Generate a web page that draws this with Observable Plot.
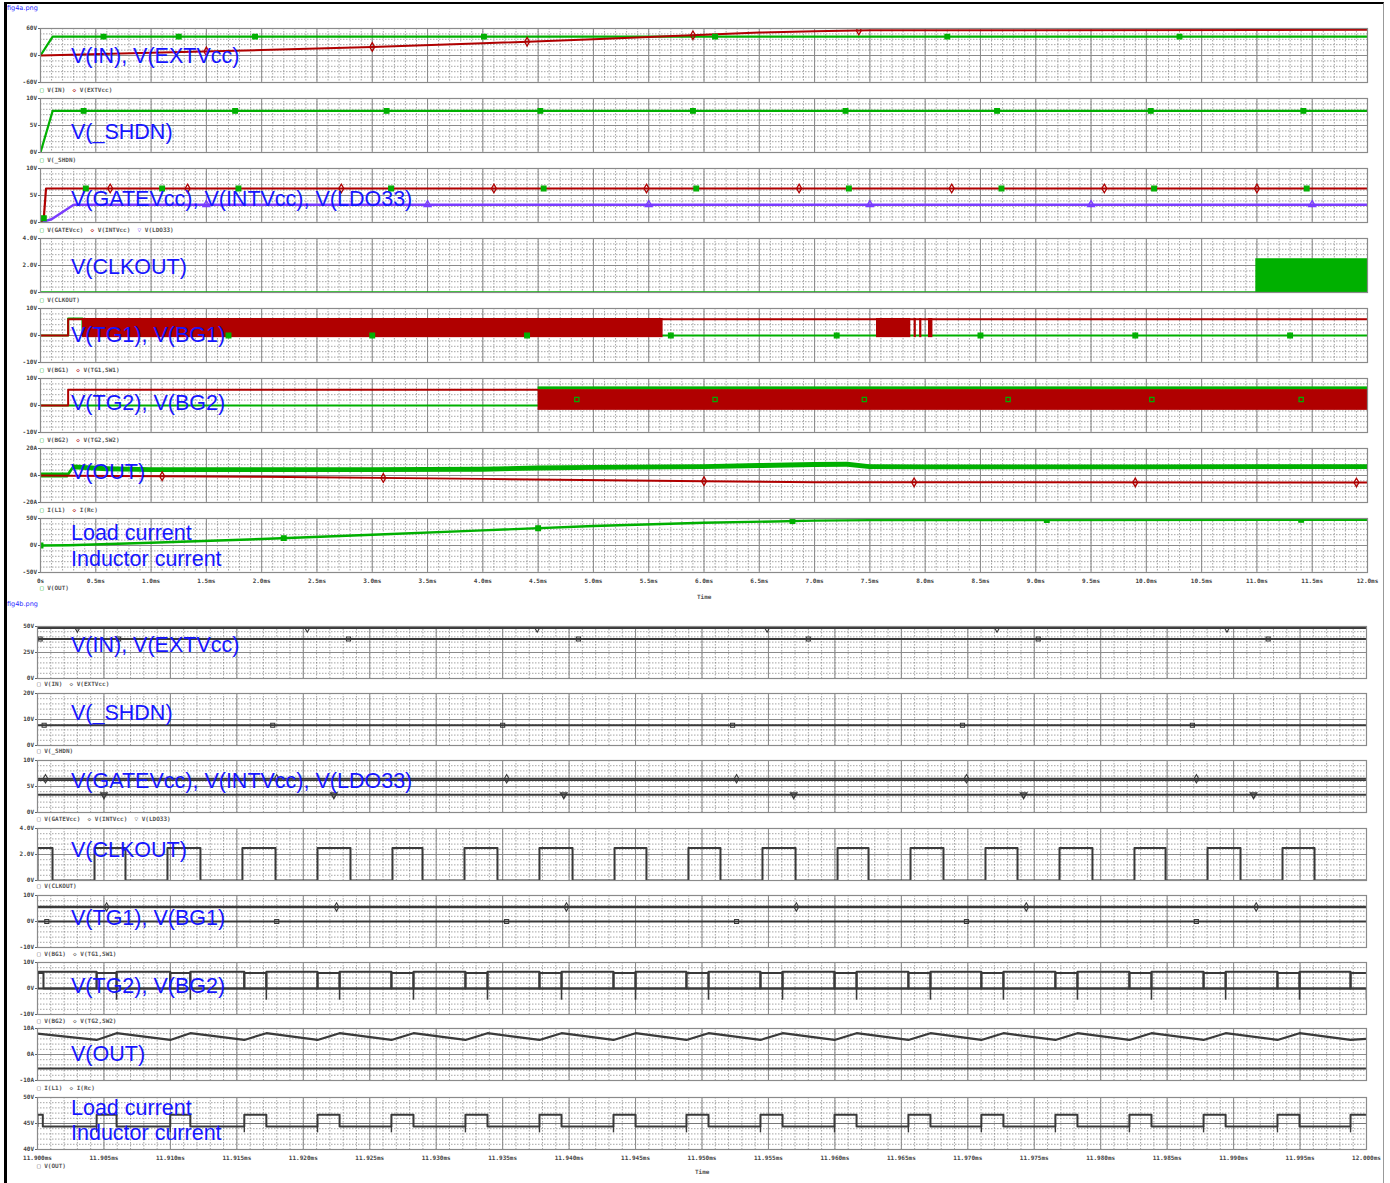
<!DOCTYPE html>
<html><head><meta charset="utf-8">
<script src="https://cdn.jsdelivr.net/npm/d3@7"></script>
<script src="https://cdn.jsdelivr.net/npm/@observablehq/plot@0.6"></script>
<style>
body{margin:0;background:#fff;}
#page{position:relative;width:1390px;height:1183px;overflow:hidden;background:#fff;}
#page svg{position:absolute;left:0;overflow:visible;}
.big{position:absolute;left:71px;color:#1616ff;font:21.5px "Liberation Sans",Arial,sans-serif;white-space:nowrap;line-height:1;transform:translateY(-50%);}
.leg{position:absolute;font:bold 6px "DejaVu Sans Mono",monospace;color:#555;white-space:nowrap;}
.fn{position:absolute;left:7px;font:6.5px "DejaVu Sans",sans-serif;color:#2a2aff;}
.ttl{position:absolute;font:bold 6px "DejaVu Sans Mono",monospace;color:#555;}
</style></head>
<body><div id="page"></div>
<script>
// ---------- colours ----------
const GREEN = "#00b000", RED = "#b00000", PURPLE = "#7a3cff", GREY = "#3a3a3a";

// ---------- axis ticks ----------
const topTickVals = [0,0.5,1,1.5,2,2.5,3,3.5,4,4.5,5,5.5,6,6.5,7,7.5,8,8.5,9,9.5,10,10.5,11,11.5,12];
const topTickLabels = ["0s","0.5ms","1.0ms","1.5ms","2.0ms","2.5ms","3.0ms","3.5ms","4.0ms","4.5ms","5.0ms","5.5ms","6.0ms","6.5ms","7.0ms","7.5ms","8.0ms","8.5ms","9.0ms","9.5ms","10.0ms","10.5ms","11.0ms","11.5ms","12.0ms"];
const botTickVals = [11.900,11.905,11.910,11.915,11.920,11.925,11.930,11.935,11.940,11.945,11.950,11.955,11.960,11.965,11.970,11.975,11.980,11.985,11.990,11.995,12.000];
const botTickLabels = ["11.900ms","11.905ms","11.910ms","11.915ms","11.920ms","11.925ms","11.930ms","11.935ms","11.940ms","11.945ms","11.950ms","11.955ms","11.960ms","11.965ms","11.970ms","11.975ms","11.980ms","11.985ms","11.990ms","11.995ms","12.000ms"];

// ---------- fig4a (0 - 12 ms) ----------
const vinT = [0, 0.11, 12];
const vinV = [0, 42, 42];
const vinMarks = [0.57, 1.25, 1.94, 4.01, 6.1, 8.2, 10.3];
const extT = [0, 1, 2, 3, 4, 5, 5.5, 6, 6.5, 7, 7.5, 12];
const extV = [0, 6, 12, 19, 27, 36, 41, 46, 51, 54, 56, 57];
const extMarks = [1.5, 3.0, 4.4, 5.9, 7.4];

const shdnT = [0, 0.11, 12];
const shdnV = [0, 7.7, 7.7];
const shdnMarks = [0.39, 1.76, 3.13, 4.52, 5.90, 7.28, 8.65, 10.04, 11.42];

const gateT = [0, 0.03, 0.05, 12];
const gateV = [0, 0.8, 6.3, 6.3];
const gateMarks = [0.03, 0.41, 1.1, 1.79, 3.17, 4.55, 5.93, 7.31, 8.69, 10.07, 11.45];
const intMarks = [0.63, 1.33, 2.72, 4.1, 5.48, 6.86, 8.24, 9.62, 11.0];
const ldoT = [0, 0.1, 0.3, 12];
const ldoV = [0, 0.6, 3.3, 3.3];
const ldoMarks = [1.5, 3.5, 5.5, 7.5, 9.5, 11.5];

const clkT = [0, 12];
const clkV = [0, 0];
const clkBandT1 = [10.99];
const clkBandT2 = [12.0];
const clkHi = 2.5;

const bg1T = [0, 0.25, 0.25, 0.38, 0.38, 12];
const bg1V = [0, 0, 6.3, 6.3, 0, 0];
const tg1T = [0, 0.25, 0.25, 12];
const tg1V = [0, 0, 6.0, 6.0];
const tg1BandT1 = [0.38, 7.56, 7.90, 7.95, 8.03];
const tg1BandT2 = [5.63, 7.87, 7.92, 7.97, 8.07];
const tg1BandLo = -0.8, tg1BandHi = 6.3;
const bg1Marks = [1.7, 3.0, 4.4, 5.7, 7.2, 8.5, 9.9, 11.3];

const bg2T = [0, 4.5, 12];
const bg2V = [0, 0, 0];
const tg2T = [0, 0.25, 0.25, 4.5];
const tg2V = [0, 0, 5.8, 5.8];
const tg2BandT1 = [4.5];
const tg2BandT2 = [12.0];
const tg2BandLo = -1.8, tg2BandHi = 5.9;
const bg2TopLo = 5.9, bg2TopHi = 6.9;
const bg2Marks = [4.85, 6.1, 7.45, 8.75, 10.05, 11.4];

const il1T = [0, 0.25, 0.3, 0.6, 1, 2, 3, 4, 4.5, 5, 6, 6.5, 7, 7.3, 7.5, 8, 9, 10, 11, 12];
const il1V = [0, 0, 6.0, 4.6, 4.0, 4.0, 4.0, 4.3, 5.2, 5.6, 6.2, 7.0, 7.8, 8.0, 6.2, 6.0, 6.0, 6.0, 6.2, 6.2];
const il1Half = 1.8;
const ircT = [0, 0.25, 2, 4, 6, 7, 12];
const ircV = [0, -0.1, -1.0, -2.5, -4.2, -5.0, -5.2];
const ircMarks = [1.1, 3.1, 6.0, 7.9, 9.9, 11.9];

const voutT = [0, 0.25, 1, 2, 3, 4, 5, 6, 7, 7.5, 12];
const voutV = [0, 0.5, 5, 12, 20, 28, 36, 42, 46, 47, 47.5];
const voutMarks = [0, 2.2, 4.5, 6.8, 9.1, 11.4];

// ---------- fig4b (11.900 - 12.000 ms) ----------
const b_vinV = 48.5, b_extV = 38;
const b_vinMarks = [11.90300, 11.92030, 11.93760, 11.95490, 11.97220, 11.98950];
const b_extMarks = [11.90020, 11.90610, 11.92340, 11.94070, 11.95800, 11.97530, 11.99260];
const b_shdnV = 7.8;
const b_shdnMarks = [11.90050, 11.91770, 11.93500, 11.95230, 11.96960, 11.98690];
const b_gateV = 6.5, b_intV = 6.2, b_ldoV = 3.4;
const b_gateMarks = [11.90060, 11.91800, 11.93530, 11.95260, 11.96990, 11.98720];
const b_ldoMarks = [11.90500, 11.92230, 11.93960, 11.95690, 11.97420, 11.99150];
const b_clkRise = [11.90113,11.90662,11.91226,11.91791,11.92355,11.92897,11.93461,11.94026,11.94582,11.95139,11.95704,11.96253,11.96817,11.97374,11.97938,11.98488,11.99052,11.99609];
const b_clkFall = [11.90429,11.90978,11.91542,11.92107,11.92671,11.93213,11.93777,11.94342,11.94898,11.95455,11.96020,11.96569,11.97133,11.97690,11.98254,11.98804,11.99368,11.99925];
const b_clkHi = 2.5;
const b_tg1V = 5.6, b_bg1V = 0;
const b_tg1Marks = [11.90520, 11.92250, 11.93980, 11.95710, 11.97440, 11.99170];
const b_bg1Marks = [11.90070, 11.91800, 11.93530, 11.95260, 11.96990, 11.98720];
const b_bg2Hi = 6.0, b_tg2Hi = 6.4, b_spikeLo = -4.5;
const b_voutLoStart = [11.90445,11.90999,11.91556,11.92107,11.92663,11.93220,11.93777,11.94334,11.94883,11.95440,11.95997,11.96553,11.97102,11.97659,11.98216,11.98774,11.99330,11.99880];
const b_voutLoEnd   = [11.90595,11.91150,11.91722,11.92273,11.92829,11.93386,11.93943,11.94500,11.95049,11.95606,11.96163,11.96719,11.97268,11.97825,11.98382,11.98940,11.99496,12.00000];
const b_voutHi = 46.7, b_voutLo = 44.4;
const b_ilPeakT = [11.90595,11.91150,11.91722,11.92273,11.92829,11.93386,11.93943,11.94500,11.95049,11.95606,11.96163,11.96719,11.97268,11.97825,11.98382,11.98940,11.99496];
const b_ilValleyT = [11.90445,11.90999,11.91556,11.92107,11.92663,11.93220,11.93777,11.94334,11.94883,11.95440,11.95997,11.96553,11.97102,11.97659,11.98216,11.98774,11.99330,11.99880];
const b_ilPeak = 8.2, b_ilValley = 5.6;
const b_ircV = -5.4;

// ---------- drawing ----------
const page = document.getElementById("page");
const W = 1390;

function pts(ts, vs) { return ts.map((t, i) => ({t, v: vs[i]})); }

function panel(o) {
  const mt = 4, mb = o.xTicks ? 24 : 4;
  const h = o.bottom - o.top;
  const [x0, x1] = o.xDomain, [y0, y1] = o.yDomain;
  const xMinor = d3.range(0, 1 + 1e-9, 1 / o.xMinorN).map(f => x0 + (x1 - x0) * f);
  const yMinor = d3.range(0, 10.001).map(k => y0 + (y1 - y0) * k / 10);
  const marks = [
    Plot.ruleX(xMinor, {stroke: "#555", strokeWidth: 0.7, strokeDasharray: "1.5,1.5", strokeOpacity: 0.75}),
    Plot.ruleY(yMinor, {stroke: "#555", strokeWidth: 0.7, strokeDasharray: "1.5,1.5", strokeOpacity: 0.75}),
    Plot.ruleX(o.xMajor, {stroke: "#8a8a8a", strokeWidth: 1}),
    Plot.ruleY([y0, (y0 + y1) / 2, y1], {stroke: "#8a8a8a", strokeWidth: 1}),
    ...o.marks,
    Plot.frame({stroke: "#8a8a8a", strokeWidth: 1.2}),
    Plot.axisY({ticks: o.yTicks, tickFormat: d => o.yLabels[o.yTicks.indexOf(d)], tickSize: 2, tickPadding: 1.5, stroke: "#666", label: null})
  ];
  if (o.xTicks) marks.push(Plot.axisX({ticks: o.xTicks, tickFormat: d => o.xLabels[o.xTicks.indexOf(d)], tickSize: 0, tickPadding: 6, label: null}));
  const svg = Plot.plot({
    width: W, height: h + mt + mb,
    marginLeft: o.left, marginRight: W - o.right, marginTop: mt, marginBottom: mb,
    x: {domain: o.xDomain, axis: null, label: null}, y: {domain: o.yDomain, axis: null, label: null},
    style: {fontFamily: "DejaVu Sans Mono, monospace", fontSize: "6px", fontWeight: "bold", color: "#444", background: "transparent"},
    marks
  });
  svg.style.top = (o.top - mt) + "px";
  page.appendChild(svg);
}

function label(text, y) {
  const d = document.createElement("div"); d.className = "big"; d.textContent = text; d.style.top = y + "px"; page.appendChild(d);
}
function legend(html, x, y) {
  const d = document.createElement("div"); d.className = "leg"; d.innerHTML = html; d.style.left = x + "px"; d.style.top = y + "px"; page.appendChild(d);
}
const sq = c => `<span style="color:${c}">&#9633;</span>`;
const di = c => `<span style="color:${c}">&#9671;</span>`;
const tr = c => `<span style="color:${c}">&#9661;</span>`;

function line(ts, vs, stroke, w = 2, extra = {}) {
  return Plot.line(pts(ts, vs), {x: "t", y: "v", stroke, strokeWidth: w, clip: true, ...extra});
}
function interpAt(ts, vs, t) {
  for (let i = 1; i < ts.length; i++) if (t <= ts[i]) { const a = ts[i-1], b = ts[i]; return b === a ? vs[i] : vs[i-1] + (vs[i] - vs[i-1]) * (t - a) / (b - a); }
  return vs[vs.length - 1];
}
function markers(ts, series, symbol, stroke, fill) {
  return Plot.dot(ts.map(t => ({t, v: interpAt(series[0], series[1], t)})), {x: "t", y: "v", symbol, r: 2.6, stroke, strokeWidth: 1.3, fill: fill ?? (symbol === "square" ? stroke : "none"), clip: true});
}
function bands(t1s, t2s, lo, hi, fill) {
  return Plot.rect(t1s.map((t, i) => ({t1: t, t2: t2s[i]})), {x1: "t1", x2: "t2", y1: () => lo, y2: () => hi, fill, clip: true});
}

// ----- fig4a -----
const A = {left: 40, right: 1367, xDomain: [0, 12], xMajor: topTickVals, xMinorN: 120};
const aTops = [28, 98, 168, 238, 308, 378, 448, 518], aH = 54;
const pA = i => ({...A, top: aTops[i], bottom: aTops[i] + aH});

panel({...pA(0), yDomain: [-60, 60], yTicks: [-60, 0, 60], yLabels: ["-60V", "0V", "60V"], marks: [
  line(vinT, vinV, GREEN, 2.2), line(extT, extV, RED, 2),
  markers(vinMarks, [vinT, vinV], "square", GREEN), markers(extMarks, [extT, extV], "diamond", RED)]});
panel({...pA(1), yDomain: [0, 10], yTicks: [0, 5, 10], yLabels: ["0V", "5V", "10V"], marks: [
  line(shdnT, shdnV, GREEN, 2.2), markers(shdnMarks, [shdnT, shdnV], "square", GREEN)]});
panel({...pA(2), yDomain: [0, 10], yTicks: [0, 5, 10], yLabels: ["0V", "5V", "10V"], marks: [
  line(ldoT, ldoV, PURPLE, 2.4), line(gateT, gateV, RED, 2.2),
  markers(gateMarks, [gateT, gateV], "square", GREEN), markers(intMarks, [gateT, gateV], "diamond", RED),
  markers(ldoMarks, [ldoT, ldoV], "triangle", PURPLE)]});
panel({...pA(3), yDomain: [0, 4], yTicks: [0, 2, 4], yLabels: ["0V", "2.0V", "4.0V"], marks: [
  line(clkT, clkV, GREEN, 2.5), bands(clkBandT1, clkBandT2, 0, clkHi, GREEN)]});
panel({...pA(4), yDomain: [-10, 10], yTicks: [-10, 0, 10], yLabels: ["-10V", "0V", "10V"], marks: [
  line(bg1T, bg1V, GREEN, 2.2), line(tg1T, tg1V, RED, 2), bands(tg1BandT1, tg1BandT2, tg1BandLo, tg1BandHi, RED),
  markers(bg1Marks, [bg1T, bg1V], "square", GREEN)]});
panel({...pA(5), yDomain: [-10, 10], yTicks: [-10, 0, 10], yLabels: ["-10V", "0V", "10V"], marks: [
  line(bg2T, bg2V, GREEN, 2.2), line(tg2T, tg2V, RED, 2),
  bands(tg2BandT1, tg2BandT2, tg2BandLo, tg2BandHi, RED),
  bands(tg2BandT1, tg2BandT2, bg2TopLo, bg2TopHi, GREEN),
  Plot.dot(bg2Marks, {x: d => d, y: () => 2.2, symbol: "square", r: 2.4, stroke: GREEN, strokeWidth: 1.2, clip: true})]});
panel({...pA(6), yDomain: [-20, 20], yTicks: [-20, 0, 20], yLabels: ["-20A", "0A", "20A"], marks: [
  Plot.areaY(pts(il1T, il1V), {x: "t", y1: d => d.v - il1Half, y2: d => d.v + il1Half, fill: GREEN, clip: true}),
  line(ircT, ircV, RED, 2), markers(ircMarks, [ircT, ircV], "diamond", RED)]});
panel({...pA(7), yDomain: [-50, 50], yTicks: [-50, 0, 50], yLabels: ["-50V", "0V", "50V"], xTicks: topTickVals, xLabels: topTickLabels, marks: [
  line(voutT, voutV, GREEN, 2.4), markers(voutMarks, [voutT, voutV], "square", GREEN)]});

// ----- fig4b -----
const B = {left: 37, right: 1366, xDomain: [11.9, 12.0], xMajor: botTickVals, xMinorN: 100};
const bTops = [626, 693, 760, 828, 895, 962, 1028, 1097], bH = 52;
const pB = i => ({...B, top: bTops[i], bottom: bTops[i] + bH});
const BT = [11.9, 12.0];

const clkPts = [{t: 11.9, v: 0}];
b_clkRise.forEach((r, i) => { clkPts.push({t: r, v: b_clkHi}); clkPts.push({t: b_clkFall[i], v: 0}); });
clkPts.push({t: 12.0, v: 0});
const vPts = [{t: 11.9, v: b_voutLo}, {t: 11.90040, v: b_voutHi}];
b_voutLoStart.forEach((s, i) => { vPts.push({t: s, v: b_voutLo}); vPts.push({t: b_voutLoEnd[i], v: b_voutHi}); });
const ilPts = [{t: 11.9, v: 8.0}];
b_ilValleyT.forEach((t, i) => { ilPts.push({t, v: b_ilValley}); if (i < b_ilPeakT.length) ilPts.push({t: b_ilPeakT[i], v: b_ilPeak}); });
ilPts.push({t: 12.0, v: 6.0});
// TG2 high and BG2 low during each switching box
const tg2Pts = [{t: 11.9, v: 0}], bg2Pts = [{t: 11.9, v: 0}, {t: 11.90045, v: b_bg2Hi}];
b_voutLoStart.forEach((s, i) => {
  tg2Pts.push({t: s, v: b_tg2Hi}); tg2Pts.push({t: b_voutLoEnd[i], v: 0});
  bg2Pts.push({t: s, v: 0}); bg2Pts.push({t: b_voutLoEnd[i], v: b_bg2Hi});
});
tg2Pts.push({t: 12.0, v: 0}); bg2Pts.push({t: 12.0, v: b_bg2Hi});

const sqG = (ts, v) => Plot.dot(ts, {x: d => d, y: () => v, symbol: "square", r: 2.3, stroke: GREY, strokeWidth: 1.1, fill: "none", clip: true});
const diG = (ts, v) => Plot.dot(ts, {x: d => d, y: () => v, symbol: "diamond", r: 2.5, stroke: GREY, strokeWidth: 1.1, fill: "none", clip: true});

panel({...pB(0), yDomain: [0, 50], yTicks: [0, 25, 50], yLabels: ["0V", "25V", "50V"], marks: [
  line(BT, [b_vinV, b_vinV], GREY, 2), line(BT, [b_extV, b_extV], GREY, 2), diG(b_vinMarks, b_vinV), sqG(b_extMarks, b_extV)]});
panel({...pB(1), yDomain: [0, 20], yTicks: [0, 10, 20], yLabels: ["0V", "10V", "20V"], marks: [
  line(BT, [b_shdnV, b_shdnV], GREY, 2), sqG(b_shdnMarks, b_shdnV)]});
panel({...pB(2), yDomain: [0, 10], yTicks: [0, 5, 10], yLabels: ["0V", "5V", "10V"], marks: [
  line(BT, [b_gateV, b_gateV], GREY, 2), line(BT, [b_intV, b_intV], GREY, 1.5), line(BT, [b_ldoV, b_ldoV], GREY, 2),
  diG(b_gateMarks, b_gateV), Plot.dot(b_ldoMarks, {x: d => d, y: () => b_ldoV, symbol: "triangle", r: 2.3, stroke: GREY, rotate: 180, clip: true})]});
panel({...pB(3), yDomain: [0, 4], yTicks: [0, 2, 4], yLabels: ["0V", "2.0V", "4.0V"], marks: [
  Plot.line(clkPts, {x: "t", y: "v", stroke: GREY, strokeWidth: 2, curve: "step-before", clip: true})]});
panel({...pB(4), yDomain: [-10, 10], yTicks: [-10, 0, 10], yLabels: ["-10V", "0V", "10V"], marks: [
  line(BT, [b_tg1V, b_tg1V], GREY, 2.4), line(BT, [b_bg1V, b_bg1V], GREY, 2), diG(b_tg1Marks, b_tg1V), sqG(b_bg1Marks, b_bg1V)]});
panel({...pB(5), yDomain: [-10, 10], yTicks: [-10, 0, 10], yLabels: ["-10V", "0V", "10V"], marks: [
  line(BT, [0, 0], GREY, 1.8),
  Plot.ruleX(b_voutLoEnd, {y1: () => b_spikeLo, y2: () => 0, stroke: GREY, strokeWidth: 1.6, clip: true}),
  Plot.line(bg2Pts, {x: "t", y: "v", stroke: GREY, strokeWidth: 2, curve: "step-before", clip: true}),
  Plot.line(tg2Pts, {x: "t", y: "v", stroke: GREY, strokeWidth: 2, curve: "step-before", clip: true})]});
panel({...pB(6), yDomain: [-10, 10], yTicks: [-10, 0, 10], yLabels: ["-10A", "0A", "10A"], marks: [
  Plot.line(ilPts, {x: "t", y: "v", stroke: GREY, strokeWidth: 2.2, clip: true}), line(BT, [b_ircV, b_ircV], GREY, 2)]});
panel({...pB(7), yDomain: [40, 50], yTicks: [40, 45, 50], yLabels: ["40V", "45V", "50V"], xTicks: botTickVals, xLabels: botTickLabels, marks: [
  line(BT, [45, 45], "#777", 1),
  Plot.line(vPts, {x: "t", y: "v", stroke: GREY, strokeWidth: 2, curve: "step-before", clip: true}),
  Plot.ruleX(b_voutLoStart, {y1: () => 43.2, y2: () => b_voutLo, stroke: GREY, strokeWidth: 1.4, clip: true})]});

// ----- labels and legends -----
[["V(IN), V(EXTVcc)", 57], ["V(_SHDN)", 133], ["V(GATEVcc), V(INTVcc), V(LDO33)", 200], ["V(CLKOUT)", 268],
 ["V(TG1), V(BG1)", 336], ["V(TG2), V(BG2)", 404], ["V(OUT)", 473], ["Load current", 534], ["Inductor current", 560],
 ["V(IN), V(EXTVcc)", 646], ["V(_SHDN)", 714], ["V(GATEVcc), V(INTVcc), V(LDO33)", 782], ["V(CLKOUT)", 851],
 ["V(TG1), V(BG1)", 919], ["V(TG2), V(BG2)", 987], ["V(OUT)", 1055], ["Load current", 1109], ["Inductor current", 1134]]
 .forEach(([t, y]) => label(t, y));

const legA = [
  [sq(GREEN) + " V(IN) &nbsp;" + di(RED) + " V(EXTVcc)", 86],
  [sq(GREEN) + " V(_SHDN)", 156],
  [sq(GREEN) + " V(GATEVcc) &nbsp;" + di(RED) + " V(INTVcc) &nbsp;" + tr(PURPLE) + " V(LDO33)", 226],
  [sq(GREEN) + " V(CLKOUT)", 296],
  [sq(GREEN) + " V(BG1) &nbsp;" + di(RED) + " V(TG1,SW1)", 366],
  [sq(GREEN) + " V(BG2) &nbsp;" + di(RED) + " V(TG2,SW2)", 436],
  [sq(GREEN) + " I(L1) &nbsp;" + di(RED) + " I(Rc)", 506],
  [sq(GREEN) + " V(OUT)", 584]];
legA.forEach(([h, y]) => legend(h, 40, y));
const legB = [
  ["&#9633; V(IN) &nbsp;&#9671; V(EXTVcc)", 680],
  ["&#9633; V(_SHDN)", 747],
  ["&#9633; V(GATEVcc) &nbsp;&#9671; V(INTVcc) &nbsp;&#9661; V(LDO33)", 815],
  ["&#9633; V(CLKOUT)", 882],
  ["&#9633; V(BG1) &nbsp;&#9671; V(TG1,SW1)", 950],
  ["&#9633; V(BG2) &nbsp;&#9671; V(TG2,SW2)", 1017],
  ["&#9633; I(L1) &nbsp;&#9671; I(Rc)", 1084],
  ["&#9633; V(OUT)", 1162]];
legB.forEach(([h, y]) => legend(h, 37, y));

const f1 = document.createElement("div"); f1.className = "fn"; f1.textContent = "fig4a.png"; f1.style.top = "4px"; page.appendChild(f1);
const f2 = document.createElement("div"); f2.className = "fn"; f2.textContent = "fig4b.png"; f2.style.top = "600px"; page.appendChild(f2);
const t1 = document.createElement("div"); t1.className = "ttl"; t1.textContent = "Time"; t1.style.left = "697px"; t1.style.top = "593px"; page.appendChild(t1);
const t2 = document.createElement("div"); t2.className = "ttl"; t2.textContent = "Time"; t2.style.left = "695px"; t2.style.top = "1168px"; page.appendChild(t2);
// frame
const fr = document.createElement("div");
fr.style.cssText = "position:absolute;left:4px;top:2px;width:1376px;height:1190px;border-left:3px solid #000;border-top:2px solid #000;border-right:1px solid #999;";
page.appendChild(fr);
</script></body></html>
